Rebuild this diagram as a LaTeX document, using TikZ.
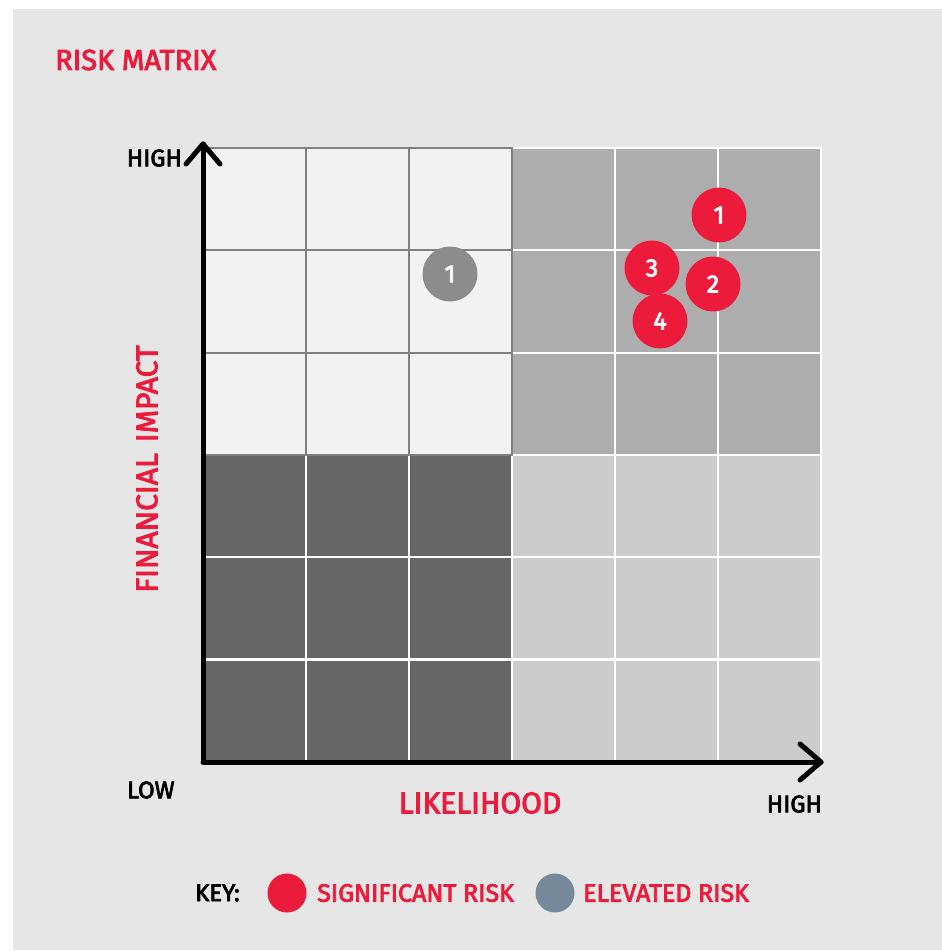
\documentclass[tikz,border=0pt]{standalone}
\usepackage{fontspec}
\setmainfont{Fira Sans}
\newfontfamily\medfont{Fira Sans}[FakeBold=3]
\definecolor{riskred}{RGB}{237,27,59}
\definecolor{bggray}{RGB}{230,230,230}
\definecolor{tlfill}{RGB}{242,242,242}
\definecolor{tlline}{RGB}{128,128,128}
\definecolor{trfill}{RGB}{173,173,173}
\definecolor{blfill}{RGB}{102,102,102}
\definecolor{brfill}{RGB}{204,204,204}
\definecolor{dotgray}{RGB}{140,140,140}
\definecolor{keygray}{RGB}{117,137,155}
\begin{document}
\begin{tikzpicture}[x=1pt,y=-1pt,
  redlabel/.style={text=riskred,font=\medfont\fontsize{29}{30}\selectfont,inner sep=0pt},
  blacklabel/.style={text=black,font=\medfont\fontsize{24}{25}\selectfont,inner sep=0pt},
  keylabel/.style={text=riskred,font=\medfont\fontsize{25}{26}\selectfont,inner sep=0pt,anchor=west},
  dot/.style={circle,minimum size=55pt,inner sep=0pt,text=white,font=\medfont\fontsize{25}{26}\selectfont},
  axisline/.style={line width=5pt,black,line cap=round,line join=round}]
\useasboundingbox (0,0) rectangle (942,951);
\fill[white] (0,0) rectangle (942,951);
\fill[bggray] (13,9) rectangle (942,950);
% grid cells
\foreach \i in {0,1,2,3,4,5}{
  \foreach \j in {0,1,2,3,4,5}{
    \pgfmathsetmacro{\xa}{203+103*\i}
    \pgfmathsetmacro{\ya}{148+102.3*\j}
    \pgfmathsetmacro{\xb}{\xa+103}
    \pgfmathsetmacro{\yb}{\ya+102.3}
    \ifnum\i<3
      \ifnum\j<3
        \def\cf{tlfill}\def\cl{tlline}
      \else
        \def\cf{blfill}\def\cl{white}
      \fi
    \else
      \ifnum\j<3
        \def\cf{trfill}\def\cl{white}
      \else
        \def\cf{brfill}\def\cl{white}
      \fi
    \fi
    \filldraw[fill=\cf,draw=\cl,line width=2.2pt] (\xa,\ya) rectangle (\xb,\yb);
  }
}
% redraw top-left quadrant lines on top
\draw[tlline,line width=2.2pt] (203,148) rectangle (512,455);
\draw[tlline,line width=2.2pt] (306,148) -- (306,455) (409,148) -- (409,455)
  (203,250.3) -- (512,250.3) (203,352.6) -- (512,352.6);
% axes
\coordinate (origin) at (203,762);
\coordinate (ytip) at (203,144);
\coordinate (xtip) at (821,762);
\draw[axisline] (origin) -- (ytip);
\draw[axisline] (origin) -- (xtip);
\draw[axisline] (186,164) -- (ytip) -- (220,164);
\draw[axisline] (800,744) -- (xtip) -- (800,780);
% labels
\node[redlabel,anchor=west] (title) at (55,60) {RISK MATRIX};
\node[blacklabel,anchor=east] (yhigh) at (182,158) {HIGH};
\node[blacklabel,anchor=west] (xlow) at (127,790) {LOW};
\node[blacklabel,anchor=east] (xhigh) at (822,804) {HIGH};
\node[redlabel,font=\medfont\fontsize{30}{31}\selectfont] (xlabel) at (480,803) {LIKELIHOOD};
\node[redlabel,font=\medfont\fontsize{30}{31}\selectfont,rotate=90] (ylabel) at (147,469) {FINANCIAL\hspace{3pt} IMPACT};
% dots
\node[dot,fill=dotgray] (g1) at (450,274) {1};
\node[dot,fill=riskred] (r1) at (719,215) {1};
\node[dot,fill=riskred] (r3) at (652,268) {3};
\node[dot,fill=riskred] (r2) at (713,284) {2};
\node[dot,fill=riskred] (r4) at (660,321) {4};
% key
\node[blacklabel,anchor=west] (key) at (195,893) {KEY:};
\node[circle,minimum size=39pt,inner sep=0pt,fill=riskred] (ksig) at (287,893) {};
\node[keylabel] (ksigt) at (317,893) {SIGNIFICANT RISK};
\node[circle,minimum size=39pt,inner sep=0pt,fill=keygray] (kel) at (555,893) {};
\node[keylabel] (kelt) at (583,893) {ELEVATED RISK};
\end{tikzpicture}
\end{document}
